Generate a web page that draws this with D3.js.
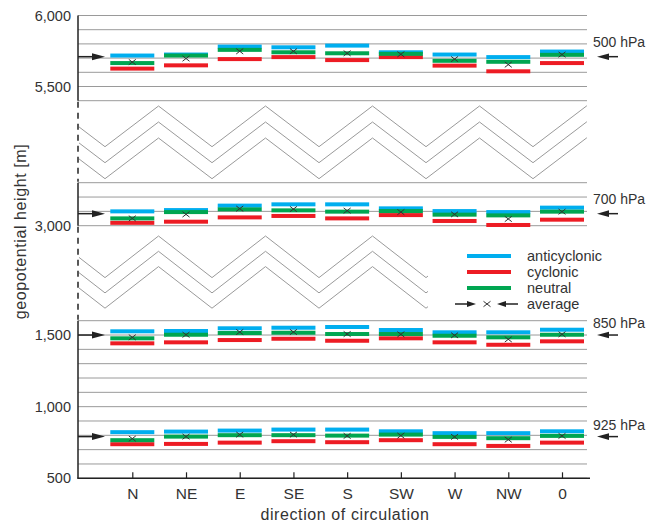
<!DOCTYPE html>
<html>
<head>
<meta charset="utf-8">
<script src="https://cdn.jsdelivr.net/npm/d3@7"></script>
<style>
  body { margin: 0; background: #fff; }
  text { font-family: "Liberation Sans", Arial, sans-serif; fill: #333; }
</style>
</head>
<body>
<div id="chart"></div>
<script>
// Geopotential height by direction of circulation
const directions = ['N', 'NE', 'E', 'SE', 'S', 'SW', 'W', 'NW', '0'];
const levels = ['500 hPa', '700 hPa', '850 hPa', '925 hPa'];
const levelMeans = [5710, 3084, 1500, 791];

// 500 hPa
const anti500 = [5718, 5725, 5781, 5776, 5788, 5741, 5725, 5707, 5746];
const cycl500 = [5626, 5649, 5693, 5707, 5686, 5707, 5647, 5607, 5665];
const neut500 = [5665, 5718, 5758, 5741, 5734, 5730, 5681, 5674, 5723];
const avg500 = [5672, 5697, 5748, 5748, 5734, 5727, 5693, 5654, 5725];

// 700 hPa
const anti700 = [3100, 3109, 3140, 3149, 3149, 3121, 3102, 3095, 3126];
const cycl700 = [3020, 3028, 3058, 3068, 3051, 3074, 3033, 3005, 3042];
const neut700 = [3051, 3095, 3114, 3107, 3098, 3102, 3077, 3072, 3098];
const avg700 = [3051, 3079, 3119, 3116, 3105, 3095, 3079, 3047, 3098];

// 850 hPa
const anti850 = [1526, 1528, 1547, 1551, 1556, 1535, 1519, 1519, 1537];
const cycl850 = [1442, 1449, 1465, 1474, 1460, 1477, 1449, 1432, 1456];
const neut850 = [1477, 1502, 1514, 1516, 1507, 1507, 1495, 1484, 1502];
const avg850 = [1484, 1502, 1521, 1521, 1507, 1505, 1498, 1470, 1505];

// 925 hPa
const anti925 = [822, 826, 833, 840, 840, 828, 815, 815, 828];
const cycl925 = [738, 740, 749, 759, 752, 766, 738, 726, 749];
const neut925 = [766, 791, 801, 801, 798, 805, 789, 780, 796];
const avg925 = [777, 791, 805, 805, 796, 798, 789, 770, 796];

// y tick labels per axis segment
const topTicks = [6000, 5500];
const midTicks = [3000];
const lowTicks = [1500, 1000, 500];

const series = [
  { anti: anti500, cycl: cycl500, neut: neut500, avg: avg500 },
  { anti: anti700, cycl: cycl700, neut: neut700, avg: avg700 },
  { anti: anti850, cycl: cycl850, neut: neut850, avg: avg850 },
  { anti: anti925, cycl: cycl925, neut: neut925, avg: avg925 }
];

const colors = { anti: '#00aeef', cycl: '#ed1c24', neut: '#00a651' };
const legendItems = [
  { key: 'anti', label: 'anticyclonic' },
  { key: 'cycl', label: 'cyclonic' },
  { key: 'neut', label: 'neutral' }
];

const W = 648, H = 526;
const axisX = 78, gridRight = 587;

const svg = d3.select('#chart').append('svg')
  .attr('width', W)
  .attr('height', H);

// broken y axis: three segments with the same m/px scale
const panels = [
  { y: d3.scaleLinear().domain([5400, 6000]).range([100.7, 15.5]), ticks: topTicks },
  { y: d3.scaleLinear().domain([3000, 3300]).range([225.7, 182.7]), ticks: midTicks },
  { y: d3.scaleLinear().domain([500, 1600]).range([478.3, 320.7]), ticks: lowTicks }
];
const levelPanel = [0, 1, 2, 2];
const labelDy = [-10, -10, -7, -7];

const x = d3.scalePoint()
  .domain(directions)
  .range([132.3, 562]);

// gridlines
panels.forEach(p => {
  const [d0, d1] = p.y.domain();
  svg.append('g').selectAll('line')
    .data(d3.range(d0, d1 + 1, 100))
    .enter().append('line')
    .attr('x1', axisX)
    .attr('x2', gridRight)
    .attr('y1', d => p.y(d))
    .attr('y2', d => p.y(d))
    .style('stroke', '#9a9a9a')
    .style('stroke-width', 1);
});

// zigzag break marks
function zigzag(x0, x1, peakY, troughY) {
  const period = 107, first = 105;
  const tri = xv => {
    let u = ((xv - first) / period) % 1;
    if (u < 0) u += 1;
    return 1 - Math.abs(2 * u - 1);
  };
  const xs = [x0];
  for (let xv = first; xv < x1; xv += period / 2) if (xv > x0) xs.push(xv);
  xs.push(x1);
  return xs.map(xv => [xv, troughY - (troughY - peakY) * tri(xv)]);
}
const zigLine = d3.line();
[[587, 106, 146.7, 16], [428, 236, 277.6, 15.3]].forEach(([x1, pk, tr, off]) => {
  for (let i = 0; i < 3; i++) {
    svg.append('path')
      .attr('d', zigLine(zigzag(axisX + 1, x1, pk + i * off, tr + i * off)))
      .style('fill', 'none')
      .style('stroke', '#9a9a9a')
      .style('stroke-width', 1);
  }
});

// y axis line (solid in segments, dashed across breaks)
panels.forEach(p => {
  const r = p.y.range();
  svg.append('line')
    .attr('x1', axisX).attr('x2', axisX)
    .attr('y1', r[1]).attr('y2', r[0])
    .style('stroke', '#222').style('stroke-width', 1.5);
});
[[panels[0], panels[1]], [panels[1], panels[2]]].forEach(([a, b]) => {
  svg.append('line')
    .attr('x1', axisX).attr('x2', axisX)
    .attr('y1', a.y.range()[0] + 1).attr('y2', b.y.range()[1] - 1)
    .style('stroke', '#222').style('stroke-width', 1.5)
    .style('stroke-dasharray', '6,5');
});

// y tick labels
panels.forEach(p => {
  const g = svg.append('g')
    .attr('transform', `translate(${axisX},0)`)
    .call(d3.axisLeft(p.y).tickValues(p.ticks).tickSize(0).tickPadding(7).tickFormat(d3.format(',')));
  g.select('.domain').remove();
  g.selectAll('text').style('font-size', '14.5px').style('fill', '#333')
    .style('font-family', '"Liberation Sans", Arial, sans-serif');
});

// x axis
const xAxisG = svg.append('g')
  .attr('transform', `translate(0,${panels[2].y(500)})`)
  .call(d3.axisBottom(x).tickSize(-6).tickPadding(10));
xAxisG.select('.domain').remove();
xAxisG.selectAll('line').style('stroke', '#222').style('stroke-width', 1.2);
xAxisG.selectAll('text').style('font-size', '15.5px').style('fill', '#333')
  .style('font-family', '"Liberation Sans", Arial, sans-serif');
svg.append('line')
  .attr('x1', axisX - 0.75).attr('x2', 590)
  .attr('y1', panels[2].y(500)).attr('y2', panels[2].y(500))
  .style('stroke', '#222').style('stroke-width', 1.5);

// arrows
function arrow(g, tail, tip, y, len, half) {
  const dir = Math.sign(tip - tail);
  g.append('line')
    .attr('x1', tail).attr('x2', tip - dir * len * 0.5)
    .attr('y1', y).attr('y2', y)
    .style('stroke', '#222').style('stroke-width', 1.5);
  g.append('path')
    .attr('d', `M${tip},${y}L${tip - dir * len},${y - half}L${tip - dir * len},${y + half}Z`)
    .style('fill', '#222');
}
function cross(g, cx, cy) {
  g.append('path')
    .attr('d', `M${cx - 3.5},${cy - 2.7}L${cx + 3.5},${cy + 2.7}M${cx - 3.5},${cy + 2.7}L${cx + 3.5},${cy - 2.7}`)
    .style('stroke', '#333')
    .style('stroke-width', 1)
    .style('fill', 'none');
}

// bars for each pressure level
const barW = 44, barH = 4;
series.forEach((s, li) => {
  const y = panels[levelPanel[li]].y;
  const g = svg.append('g').attr('class', 'level');
  ['anti', 'cycl', 'neut'].forEach(k => {
    g.selectAll(`.bar-${k}`)
      .data(s[k])
      .enter().append('rect')
      .attr('class', `bar-${k}`)
      .attr('x', (d, i) => x(directions[i]) - barW / 2)
      .attr('y', d => y(d) - barH / 2)
      .attr('width', barW)
      .attr('height', barH)
      .style('fill', colors[k]);
  });
  s.avg.forEach((d, i) => cross(g, x(directions[i]), y(d)));

  const my = y(levelMeans[li]);
  arrow(g, axisX, 105, my, 13, 3.5);
  arrow(g, 618, 597, my, 12, 3.3);
  g.append('text')
    .attr('x', 593)
    .attr('y', my + labelDy[li])
    .style('font-size', '14px')
    .text(levels[li]);
});

// legend
const legend = svg.append('g').attr('class', 'legend');
legendItems.forEach((d, i) => {
  const ly = 256 + i * 16;
  legend.append('rect')
    .attr('x', 467).attr('y', ly - 2)
    .attr('width', 44).attr('height', 4)
    .style('fill', colors[d.key]);
  legend.append('text')
    .attr('x', 527).attr('y', ly)
    .attr('dy', '0.35em')
    .style('font-size', '14.5px')
    .text(d.label);
});
arrow(legend, 455, 476, 304, 9, 3);
cross(legend, 487, 304);
arrow(legend, 518, 497, 304, 9, 3);
legend.append('text')
  .attr('x', 527).attr('y', 304)
  .attr('dy', '0.35em')
  .style('font-size', '14.5px')
  .text('average');

// axis titles
svg.append('text')
  .attr('x', 345).attr('y', 520)
  .style('text-anchor', 'middle')
  .style('font-size', '16px')
  .style('letter-spacing', '0.6px')
  .text('direction of circulation');

svg.append('text')
  .attr('transform', 'translate(25.5,231.5) rotate(-90)')
  .style('text-anchor', 'middle')
  .style('font-size', '16px')
  .style('letter-spacing', '0.6px')
  .text('geopotential height [m]');
</script>
</body>
</html>
